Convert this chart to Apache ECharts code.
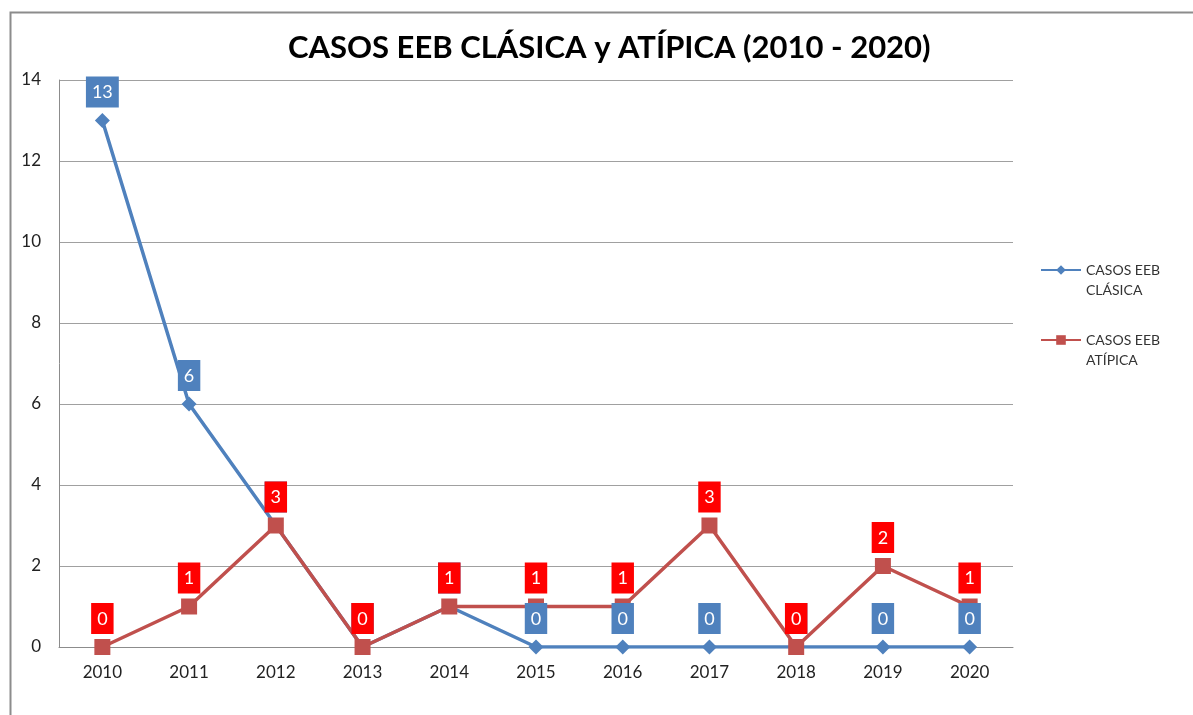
<!DOCTYPE html>
<html>
<head>
<meta charset="utf-8">
<script src="https://cdn.jsdelivr.net/npm/echarts@6/dist/echarts.min.js"></script>
<style>
  html, body { margin: 0; padding: 0; background: #fff; }
  #chart { width: 1193px; height: 715px; }
</style>
</head>
<body>
<div id="chart"></div>
<script>
const titleText = 'CASOS EEB CLÁSICA y ATÍPICA (2010 - 2020)';
const years = ['2010','2011','2012','2013','2014','2015','2016','2017','2018','2019','2020'];
const clasicaName = 'CASOS EEB CLÁSICA';
const atipicaName = 'CASOS EEB ATÍPICA';
const clasica = [13, 6, 3, 0, 1, 0, 0, 0, 0, 0, 0];
const atipica = [0, 1, 3, 0, 1, 1, 1, 3, 0, 2, 1];

const FONT = 'Lato, "Open Sans", "Liberation Sans", sans-serif';

const chart = echarts.init(document.getElementById('chart'), null, { renderer: 'canvas' });

function labelStyle(bg) {
  return {
    show: true,
    position: 'top',
    distance: 5,
    opacity: 1,
    color: '#ffffff',
    backgroundColor: bg,
    fontFamily: FONT,
    fontSize: 18,
    lineHeight: 18,
    padding: [7, 6, 6, 6]
  };
}

function labelSeries(name, data, bg, z) {
  return {
    name: name,
    type: 'scatter',
    data: data,
    z: z,
    symbol: 'rect',
    symbolSize: 16,
    itemStyle: { color: 'rgba(0,0,0,0)', opacity: 1 },
    label: labelStyle(bg),
    emphasis: { disabled: true },
    silent: true
  };
}

chart.setOption({
  backgroundColor: '#ffffff',
  animation: false,
  graphic: [{
    type: 'rect',
    left: 8, top: 10,
    shape: { width: 1400, height: 900 },
    style: { fill: 'none', stroke: '#8c8c8c', lineWidth: 2 },
    silent: true,
    z: -1
  }],
  title: {
    text: titleText,
    left: 283,
    top: 27,
    textStyle: { fontFamily: FONT, fontWeight: 'bold', fontSize: 31, color: '#000' }
  },
  legend: {
    orient: 'vertical',
    left: 1035,
    top: 235,
    itemWidth: 40,
    itemHeight: 12,
    itemGap: 10,
    data: [clasicaName, atipicaName],
    formatter: function (name) {
      const parts = name.split(' ');
      return '\n' + parts.slice(0, 2).join(' ') + '\n' + parts.slice(2).join(' ');
    },
    textStyle: { fontFamily: FONT, fontSize: 14, lineHeight: 20, color: '#333' }
  },
  grid: { left: 59, right: 180, top: 80, bottom: 68, containLabel: false },
  xAxis: {
    type: 'category',
    data: years,
    boundaryGap: true,
    axisTick: { show: false },
    axisLine: { lineStyle: { color: '#8c8c8c', width: 1 } },
    axisLabel: { fontFamily: FONT, fontSize: 17, color: '#222', margin: 17 }
  },
  yAxis: {
    type: 'value',
    min: 0, max: 14, interval: 2,
    axisLine: { show: true, lineStyle: { color: '#8c8c8c', width: 1 } },
    axisTick: { show: false },
    splitLine: { lineStyle: { color: '#a0a0a0', width: 1 } },
    axisLabel: { fontFamily: FONT, fontSize: 17, color: '#222', margin: 18 }
  },
  series: [
    {
      name: clasicaName,
      type: 'line',
      data: clasica,
      z: 2,
      color: '#4F81BD',
      symbol: 'diamond',
      symbolSize: 15,
      lineStyle: { width: 3.5, color: '#4F81BD' },
      itemStyle: { color: '#4F81BD' },
      label: { show: false }
    },
    {
      name: atipicaName,
      type: 'line',
      data: atipica,
      z: 3,
      color: '#C0504D',
      symbol: 'rect',
      symbolSize: 16,
      lineStyle: { width: 3.5, color: '#C0504D' },
      itemStyle: { color: '#C0504D' },
      label: { show: false }
    },
    labelSeries('clasicaLabels', clasica, '#4F81BD', 4),
    labelSeries('atipicaLabels', atipica, '#FF0000', 5)
  ]
});
</script>
</body>
</html>
